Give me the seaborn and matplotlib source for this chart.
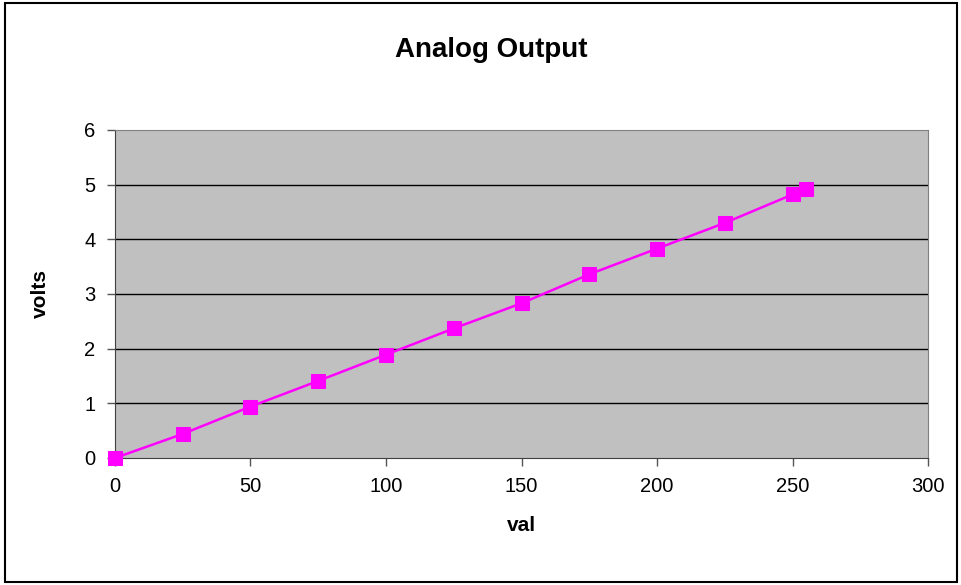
import matplotlib
matplotlib.use("Agg")
import matplotlib.pyplot as plt
import seaborn as sns
import pandas as pd

# Data
val = [0, 25, 50, 75, 100, 125, 150, 175, 200, 225, 250, 255]
volts = [0.0, 0.44, 0.94, 1.41, 1.89, 2.37, 2.83, 3.36, 3.83, 4.30, 4.82, 4.92]
x_ticks = [0, 50, 100, 150, 200, 250, 300]
y_ticks = [0, 1, 2, 3, 4, 5, 6]

df = pd.DataFrame({"val": val, "volts": volts})

sns.set_style("white")
plt.rcParams['font.family'] = ['Liberation Sans', 'DejaVu Sans']
plt.rcParams['text.color'] = 'black'
plt.rcParams['axes.labelcolor'] = 'black'
plt.rcParams['xtick.color'] = 'black'
plt.rcParams['ytick.color'] = 'black'

fig = plt.figure(figsize=(9.62, 5.85), dpi=100)
ax = fig.add_axes([0.1195, 0.2171, 0.8452, 0.5607])
ax.set_facecolor("#C0C0C0")

# outer chart border
fig.patches.append(plt.Rectangle((0.005, 0.005), 0.99, 0.99, transform=fig.transFigure,
                                 fill=False, edgecolor="black", linewidth=1.5))

for y in y_ticks[1:-1]:
    ax.axhline(y, color="black", linewidth=1, zorder=1)

sns.lineplot(data=df, x="val", y="volts", ax=ax, color="#FF00FF", linewidth=1.8,
             marker="s", markersize=10, markeredgecolor="#FF00FF", zorder=3,
             clip_on=False)

ax.set_xlim(0, 300)
ax.set_ylim(0, 6)
ax.set_xticks(x_ticks)
ax.set_yticks(y_ticks)
ax.tick_params(axis="both", labelsize=14.5, length=6, width=1, color="#555555",
               labelcolor="black", direction="out", bottom=True, left=True, pad=8)
for side in ["top", "right"]:
    ax.spines[side].set_color("#808080")
for side in ["left", "bottom"]:
    ax.spines[side].set_color("#404040")

fig.text(491 / 962, 1 - 50 / 585, "Analog Output", fontsize=20, fontweight="bold",
         ha="center", va="center", color="black")
ax.set_xlabel("val", fontsize=15, fontweight="bold", labelpad=14)
ax.set_ylabel("volts", fontsize=15, fontweight="bold", labelpad=25)

fig.savefig("out.png", dpi=100)
